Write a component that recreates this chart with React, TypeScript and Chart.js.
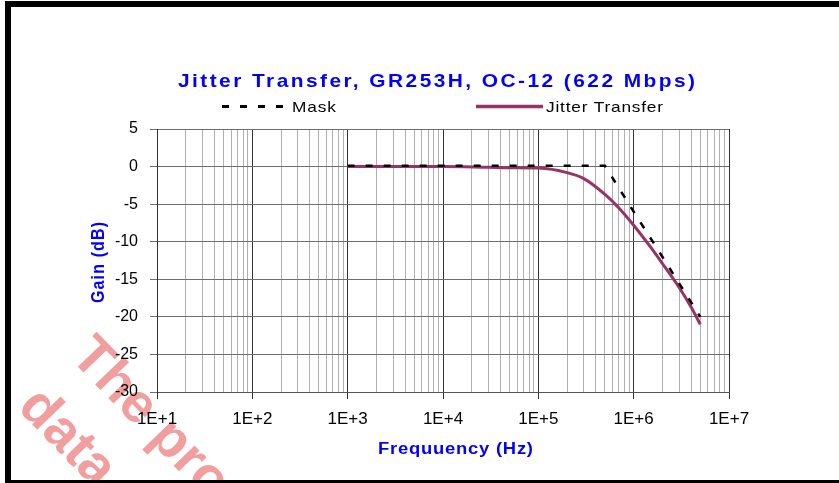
import { useEffect, useRef } from 'react';
import { Chart, registerables } from 'chart.js';

Chart.register(...registerables);

// ---- data ----
const seriesNames = ['Mask', 'Jitter Transfer'];
const maskFreq = [1e3, 5e5, 1e6, 2e6, 5e6];
const maskGain = [0.1, 0.1, -6, -12, -20];
const jitterFreq = [1e3, 1e4, 3e4, 5e4, 1e5, 2e5, 3e5, 5e5, 7e5, 1e6, 1.5e6, 2e6, 3e6, 4e6, 5e6];
const jitterGain = [0, 0, -0.1, -0.15, -0.2, -0.8, -1.6, -3.7, -5.5, -7.8, -10.7, -12.9, -16.1, -18.7, -21];

const decades = [10, 100, 1e3, 1e4, 1e5, 1e6, 1e7];
const xTickLabels = ['1E+1', '1E+2', '1E+3', '1E+4', '1E+5', '1E+6', '1E+7'];
const minorMultipliers = [1, 2, 3, 4, 5, 6, 7, 8, 9];
const yMin = -30;
const yMax = 5;
const yStep = 5;

const titleText = 'Jitter Transfer, GR253H, OC-12 (622 Mbps)';
const xTitleText = 'Frequuency (Hz)';
const yTitleText = 'Gain (dB)';
const watermarkLines = ['The product', 'data sheet'];

const FONT = '"Liberation Sans", Arial, Helvetica, sans-serif';
const BLUE = '#0000ff';
const PLUM = '#993366';

function drawFitted(ctx: CanvasRenderingContext2D, text: string, x: number, y: number, target: number, sx: number) {
  ctx.save();
  (ctx as any).letterSpacing = '0px';
  const w = ctx.measureText(text).width;
  const n = text.length;
  const spacing = n > 1 ? (target / sx - w) / (n - 1) : 0;
  ctx.translate(x, y);
  ctx.scale(sx, 1);
  (ctx as any).letterSpacing = spacing + 'px';
  ctx.textAlign = 'left';
  ctx.fillText(text, 0, 0);
  ctx.restore();
}

const decor = {
  id: 'decor',
  beforeDraw(chart: any) {
    const ctx: CanvasRenderingContext2D = chart.ctx;
    ctx.save();
    ctx.fillStyle = '#ffffff';
    ctx.fillRect(0, 0, chart.width, chart.height);
    // watermark
    ctx.translate(80, 347);
    ctx.rotate((46 * Math.PI) / 180);
    ctx.font = `bold 55px ${FONT}`;
    ctx.fillStyle = 'rgba(225,40,40,0.45)';
    ctx.textBaseline = 'middle';
    ctx.textAlign = 'left';
    ctx.fillText(watermarkLines[0], 0, 0);
    ctx.fillText(watermarkLines[1], 0, 73);
    ctx.restore();
  },
  afterDraw(chart: any) {
    const ctx: CanvasRenderingContext2D = chart.ctx;
    ctx.save();
    ctx.textBaseline = 'alphabetic';
    // title
    ctx.fillStyle = BLUE;
    ctx.font = `bold 19px ${FONT}`;
    drawFitted(ctx, titleText, 178, 86.5, 517, 1.1);

    // legend
    const samples = [
      { x0: 222, x1: 289, tx: 292, w: 44 },
      { x0: 476, x1: 543, tx: 546, w: 117 },
    ];
    chart.data.datasets.forEach((ds: any, i: number) => {
      const s = samples[i];
      ctx.save();
      ctx.strokeStyle = ds.borderColor;
      ctx.lineWidth = ds.borderWidth + 0.5;
      ctx.setLineDash(ds.borderDash || []);
      ctx.beginPath();
      ctx.moveTo(s.x0, 106.5);
      ctx.lineTo(s.x1, 106.5);
      ctx.stroke();
      ctx.restore();
      ctx.fillStyle = '#000';
      ctx.font = `15px ${FONT}`;
      drawFitted(ctx, ds.label, s.tx, 111.5, s.w, 1.15);
    });

    // x axis title
    ctx.fillStyle = BLUE;
    ctx.font = `bold 16px ${FONT}`;
    drawFitted(ctx, xTitleText, 378, 453.5, 155, 1.15);

    // y axis title (rotated)
    ctx.save();
    ctx.translate(99, 303);
    ctx.rotate(-Math.PI / 2);
    ctx.scale(1, 1.15);
    ctx.textBaseline = 'middle';
    ctx.font = `bold 16px ${FONT}`;
    ctx.fillStyle = BLUE;
    drawFitted(ctx, yTitleText, 0, 0, 81, 1);
    ctx.restore();

    // frame
    ctx.fillStyle = '#000';
    ctx.fillRect(5, 1, 6, 482);
    ctx.fillRect(5, 1, 834, 6);
    ctx.fillRect(5, 480, 834, 3);
    ctx.restore();
  },
};

const isDecade = (v: number) => decades.includes(v);

export default function App() {
  const ref = useRef<HTMLCanvasElement | null>(null);
  useEffect(() => {
    if (!ref.current) return;
    const chart = new Chart(ref.current, {
      type: 'line',
      data: {
        datasets: [
          {
            label: seriesNames[0],
            data: maskFreq.map((f, i) => ({ x: f, y: maskGain[i] })),
            borderColor: '#000000',
            backgroundColor: '#000000',
            borderWidth: 2.5,
            borderDash: [7, 11],
            pointRadius: 0,
            tension: 0,
          },
          {
            label: seriesNames[1],
            data: jitterFreq.map((f, i) => ({ x: f, y: jitterGain[i] })),
            borderColor: PLUM,
            backgroundColor: PLUM,
            borderWidth: 3,
            pointRadius: 0,
            cubicInterpolationMode: 'monotone',
          },
        ],
      },
      options: {
        animation: false,
        responsive: false,
        devicePixelRatio: 1,
        layout: { padding: { left: 80, right: 110, top: 129, bottom: 51 } },
        plugins: {
          legend: { display: false },
          title: { display: false },
          tooltip: { enabled: false },
        },
        scales: {
          x: {
            type: 'logarithmic',
            min: decades[0],
            max: decades[decades.length - 1],
            afterBuildTicks: (scale: any) => {
              const vals: number[] = [];
              for (let d = 0; d < decades.length - 1; d++) {
                for (const m of minorMultipliers) vals.push(decades[d] * m);
              }
              vals.push(decades[decades.length - 1]);
              scale.ticks = vals.map((v) => ({ value: v, major: isDecade(v) }));
            },
            afterFit: (scale: any) => {
              scale.height = 40;
            },
            ticks: {
              autoSkip: false,
              maxRotation: 0,
              minRotation: 0,
              padding: 10,
              color: '#000',
              font: { family: FONT, size: 17 },
              callback: (value: any) => {
                const i = decades.indexOf(Number(value));
                return i >= 0 ? xTickLabels[i] : '';
              },
            },
            grid: {
              color: (c: any) => (c.tick && isDecade(c.tick.value) ? '#333333' : '#b0b0b0'),
              tickColor: (c: any) => (c.tick && isDecade(c.tick.value) ? '#333333' : 'rgba(0,0,0,0)'),
              tickLength: 7,
              lineWidth: 1,
            },
            border: { color: '#555555' },
          },
          y: {
            type: 'linear',
            min: yMin,
            max: yMax,
            afterFit: (scale: any) => {
              scale.width = 77;
            },
            ticks: {
              stepSize: yStep,
              padding: 12,
              color: '#000',
              font: { family: FONT, size: 16 },
            },
            grid: {
              color: '#6e6e6e',
              tickColor: '#6e6e6e',
              tickLength: 7,
              lineWidth: 1,
            },
            border: { color: '#333333' },
          },
        },
      } as any,
      plugins: [decor],
    });
    return () => chart.destroy();
  }, []);
  return (
    <div style={{ position: 'absolute', left: 0, top: 0, width: 839, height: 483 }}>
      <canvas ref={ref} width={839} height={483} style={{ display: 'block' }} />
    </div>
  );
}
